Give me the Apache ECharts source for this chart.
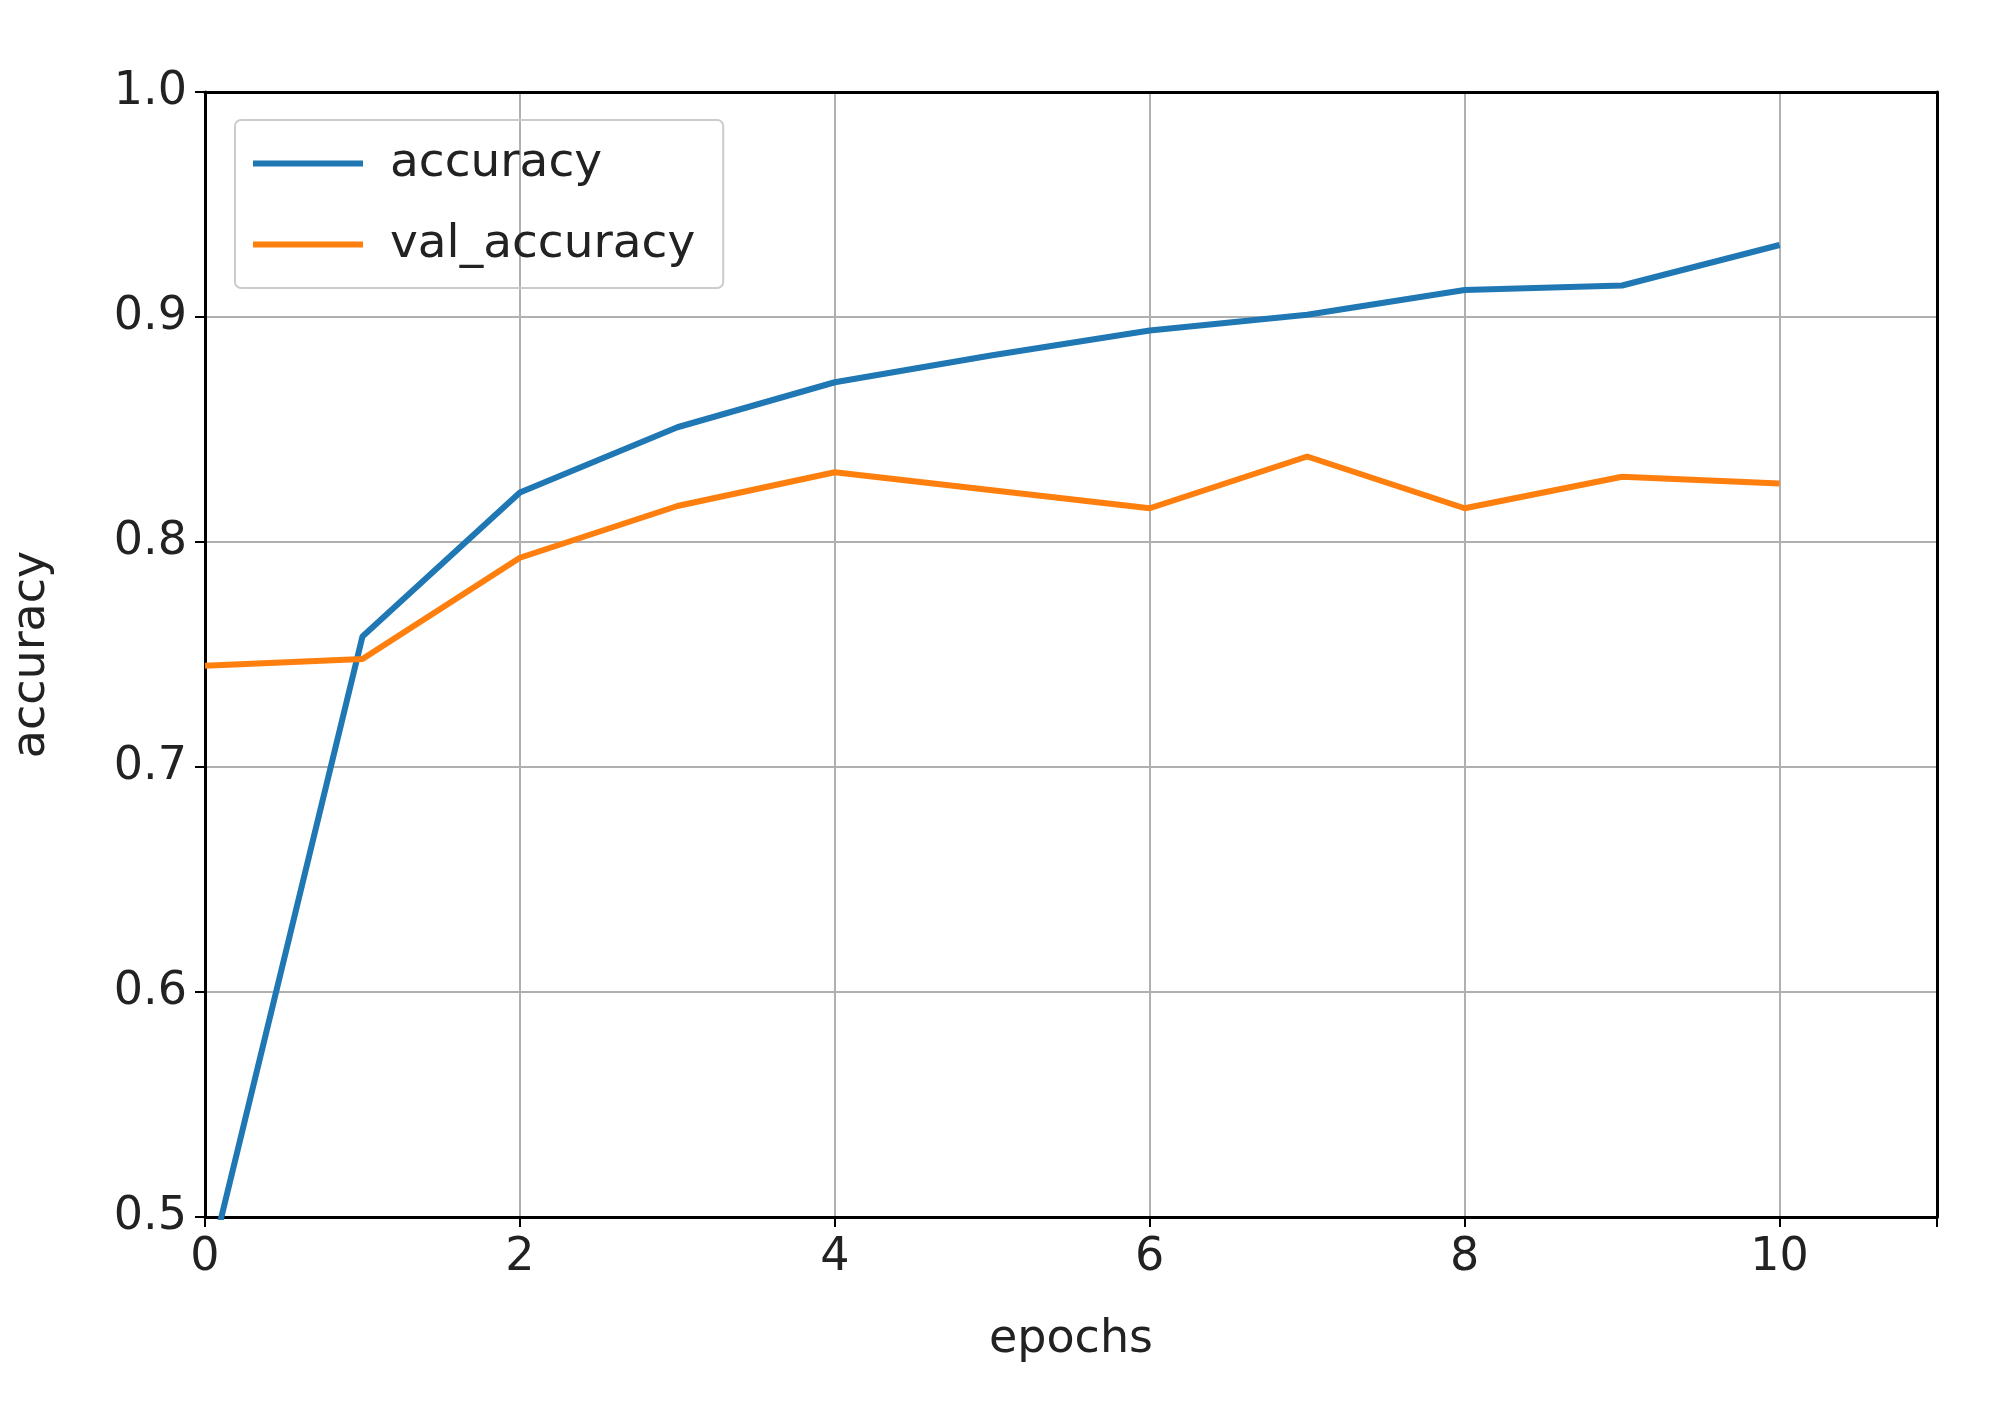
<!DOCTYPE html>
<html><head><meta charset="utf-8">
<script src="https://cdn.jsdelivr.net/npm/echarts@6/dist/echarts.min.js"></script>
<style>html,body{margin:0;background:#fff}#c{width:1998px;height:1407px}</style>
</head><body><div id="c"></div>
<script>
const epochs = [0,1,2,3,4,5,6,7,8,9,10];
const accuracy = [0.47,0.758,0.822,0.851,0.871,0.883,0.894,0.901,0.912,0.914,0.932];
const valAccuracy = [0.745,0.748,0.793,0.816,0.831,0.823,0.815,0.838,0.815,0.829,0.826];
const font = 'DejaVu Sans';
const edge = {show:true,onZero:false,lineStyle:{color:'#000',width:3}};
const chart = echarts.init(document.getElementById('c'));
chart.setOption({
  animation:false,
  grid:{left:205,right:61,top:92,bottom:190},
  legend:{left:235,top:120,orient:'vertical',itemWidth:110,itemHeight:6,itemGap:34,
    padding:[20,28,20,18],borderColor:'#ccc',borderWidth:2,borderRadius:6,
    textStyle:{fontFamily:font,fontSize:47,color:'#222',padding:[0,0,0,22]},
    data:[{name:'accuracy',icon:'rect'},{name:'val_accuracy',icon:'rect'}]},
  xAxis:[{type:'value',min:0,max:11,interval:2,name:'epochs',nameLocation:'middle',nameGap:100,
    nameTextStyle:{fontFamily:font,fontSize:46,color:'#222'},
    axisLine:edge,axisTick:{length:10,lineStyle:{color:'#000',width:2}},
    axisLabel:{fontFamily:font,fontSize:46,color:'#222',margin:18,formatter:v=>v%2===0&&v<=10?v:''},
    splitLine:{lineStyle:{color:'#b0b0b0',width:2}}},
    {type:'value',position:'top',min:0,max:11,axisLine:edge,axisTick:{show:false},axisLabel:{show:false},splitLine:{show:false}}],
  yAxis:[{type:'value',min:0.5,max:1.0,interval:0.1,name:'accuracy',nameLocation:'middle',nameGap:150,
    nameTextStyle:{fontFamily:font,fontSize:46,color:'#222'},
    axisLine:edge,axisTick:{show:true,length:10,lineStyle:{color:'#000',width:2}},
    axisLabel:{fontFamily:font,fontSize:46,color:'#222',margin:18,formatter:v=>v.toFixed(1)},
    splitLine:{lineStyle:{color:'#b0b0b0',width:2}}},
    {type:'value',position:'right',min:0.5,max:1.0,axisLine:edge,axisTick:{show:false},axisLabel:{show:false},splitLine:{show:false}}],
  series:[
    {name:'accuracy',type:'line',data:epochs.map((e,i)=>[e,accuracy[i]]),showSymbol:false,clip:true,
     color:'#1f77b4',lineStyle:{width:6}},
    {name:'val_accuracy',type:'line',data:epochs.map((e,i)=>[e,valAccuracy[i]]),showSymbol:false,clip:true,
     color:'#ff7f0e',lineStyle:{width:6}}
  ]
});
</script></body></html>
